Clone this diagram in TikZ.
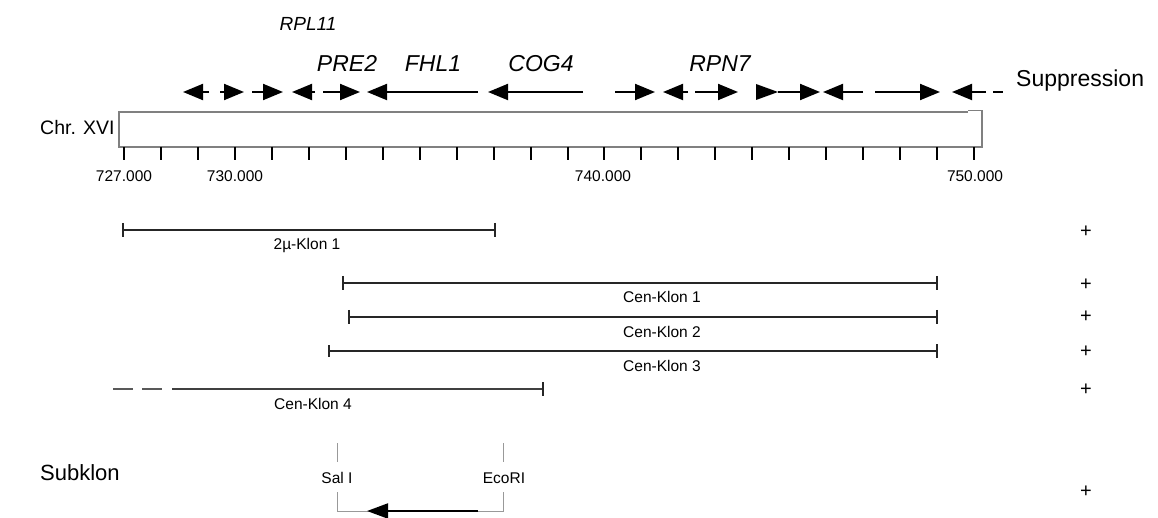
\documentclass[tikz,border=0pt]{standalone}
\usepackage{fontspec}
\setmainfont{Liberation Sans}
\usetikzlibrary{arrows.meta}
\begin{document}
\begin{tikzpicture}[x=1pt,y=-1pt,
  gene/.style={line width=2pt, -{Triangle[length=20pt,width=16pt]}},
  chrbox/.style={draw=black!50, line width=1.4pt},
  scaletick/.style={line width=2pt},
  clone/.style={line width=1.8pt, black!85},
  endtick/.style={line width=1.8pt, black!85},
  dashclone/.style={line width=1.8pt, black!65},
  sub/.style={draw=black!40, line width=1pt},
  genelbl/.style={font=\fontsize{23}{26}\selectfont\itshape, inner sep=0pt, anchor=base},
  smallgene/.style={font=\fontsize{19}{22}\selectfont\itshape, inner sep=0pt, anchor=base},
  rowlbl/.style={font=\fontsize{21}{24}\selectfont, inner sep=0pt, anchor=base west},
  scalelbl/.style={font=\fontsize{15.5}{18}\selectfont, inner sep=0pt, anchor=base},
  clonelbl/.style={font=\fontsize{15.5}{18}\selectfont, inner sep=0pt, anchor=base},
  pluslbl/.style={font=\fontsize{20}{22}\selectfont, inner sep=0pt, anchor=center},
]
\useasboundingbox (0,0) rectangle (1158,518);

% ---------- gene labels ----------
\node[smallgene] (rpl11) at (308,31) {RPL11};
\node[genelbl] (pre2) at (347,72) {PRE2};
\node[genelbl] (fhl1) at (433,72) {FHL1};
\node[genelbl] (cog4) at (541,72) {COG4};
\node[genelbl] (rpn7) at (720,72) {RPN7};
\node[rowlbl, font=\fontsize{23}{26}\selectfont] (supp) at (1016,87) {Suppression};

% ---------- gene arrows ----------
\draw[gene] (209,92) -- (183,92);
\draw[gene] (220,92) -- (244,92);
\draw[gene] (252,92) -- (283,92);
\draw[gene] (315,92) -- (292,92);
\draw[gene] (323,92) -- (360,92);
\draw[gene] (478,92) -- (367,92);
\draw[gene] (583,92) -- (488,92);
\draw[gene] (615,92) -- (655,92);
\draw[gene] (688,92) -- (663,92);
\draw[gene] (695,92) -- (738,92);
\fill (756,84) -- (778,92) -- (756,100) -- cycle;
\draw[gene] (778,92) -- (820,92);
\draw[gene] (863,92) -- (823,92);
\draw[gene] (875,92) -- (940,92);
\draw[gene] (986,92) -- (952,92);
\draw[line width=2pt] (993,92) -- (1003,92);

% ---------- chromosome ----------
\node[rowlbl, font=\fontsize{19.5}{22}\selectfont] (chr) at (40,135) {Chr. XVI};
\draw[chrbox] (968,112) -- (119,112) -- (119,147) -- (982,147) -- (982,110.5) -- (968,110.5);
\foreach \k in {0,...,23}{
  \draw[scaletick] ({124+36.96*\k},147) -- ({124+36.96*\k},160);
}
\node[scalelbl] (s727) at (124,182) {727.000};
\node[scalelbl] (s730) at (235,182) {730.000};
\node[scalelbl] (s740) at (603,182) {740.000};
\node[scalelbl] (s750) at (975,182) {750.000};

% ---------- clones ----------
\coordinate (k1a) at (123,230); \coordinate (k1b) at (495,230);
\draw[clone] (k1a) -- (k1b);
\draw[endtick] (123,223) -- (123,237);
\draw[endtick] (495,223) -- (495,237);
\node[clonelbl] (k1) at (307,250) {2µ-Klon 1};

\coordinate (c1a) at (343,283); \coordinate (c1b) at (937,283);
\draw[clone] (c1a) -- (c1b);
\draw[endtick] (343,276) -- (343,290);
\draw[endtick] (937,276) -- (937,290);
\node[clonelbl] (c1) at (662,303) {Cen-Klon 1};

\coordinate (c2a) at (349,317); \coordinate (c2b) at (937,317);
\draw[clone] (c2a) -- (c2b);
\draw[endtick] (349,310) -- (349,324);
\draw[endtick] (937,310) -- (937,324);
\node[clonelbl] (c2) at (662,337) {Cen-Klon 2};

\coordinate (c3a) at (329,351); \coordinate (c3b) at (937,351);
\draw[clone] (c3a) -- (c3b);
\draw[endtick] (329,345) -- (329,357);
\draw[endtick] (937,344) -- (937,358);
\node[clonelbl] (c3) at (662,371) {Cen-Klon 3};

\coordinate (c4a) at (172,389); \coordinate (c4b) at (543,389);
\draw[dashclone] (113,389) -- (133,389);
\draw[dashclone] (142,389) -- (162,389);
\draw[clone, black!75] (c4a) -- (c4b);
\draw[endtick] (543,382) -- (543,396);
\node[clonelbl] (c4) at (313,409) {Cen-Klon 4};

% ---------- subclone ----------
\node[rowlbl, font=\fontsize{22}{24}\selectfont] (subk) at (40,480) {Subklon};
\draw[sub] (337,443) -- (337,462);
\draw[sub] (503,443) -- (503,462);
\draw[sub] (337,492) -- (337,511) -- (503,511) -- (503,492);
\node[clonelbl] (sal) at (337,483) {Sal I};
\node[clonelbl] (eco) at (504,483) {EcoRI};
\draw[line width=2pt, -{Triangle[length=21pt,width=15pt]}] (478,511) -- (367,511);

% ---------- suppression results ----------
\node[pluslbl] (p1) at (1086,232) {+};
\node[pluslbl] (p2) at (1086,285) {+};
\node[pluslbl] (p3) at (1086,317) {+};
\node[pluslbl] (p4) at (1086,352) {+};
\node[pluslbl] (p5) at (1086,390) {+};
\node[pluslbl] (p6) at (1086,492) {+};
\end{tikzpicture}
\end{document}
